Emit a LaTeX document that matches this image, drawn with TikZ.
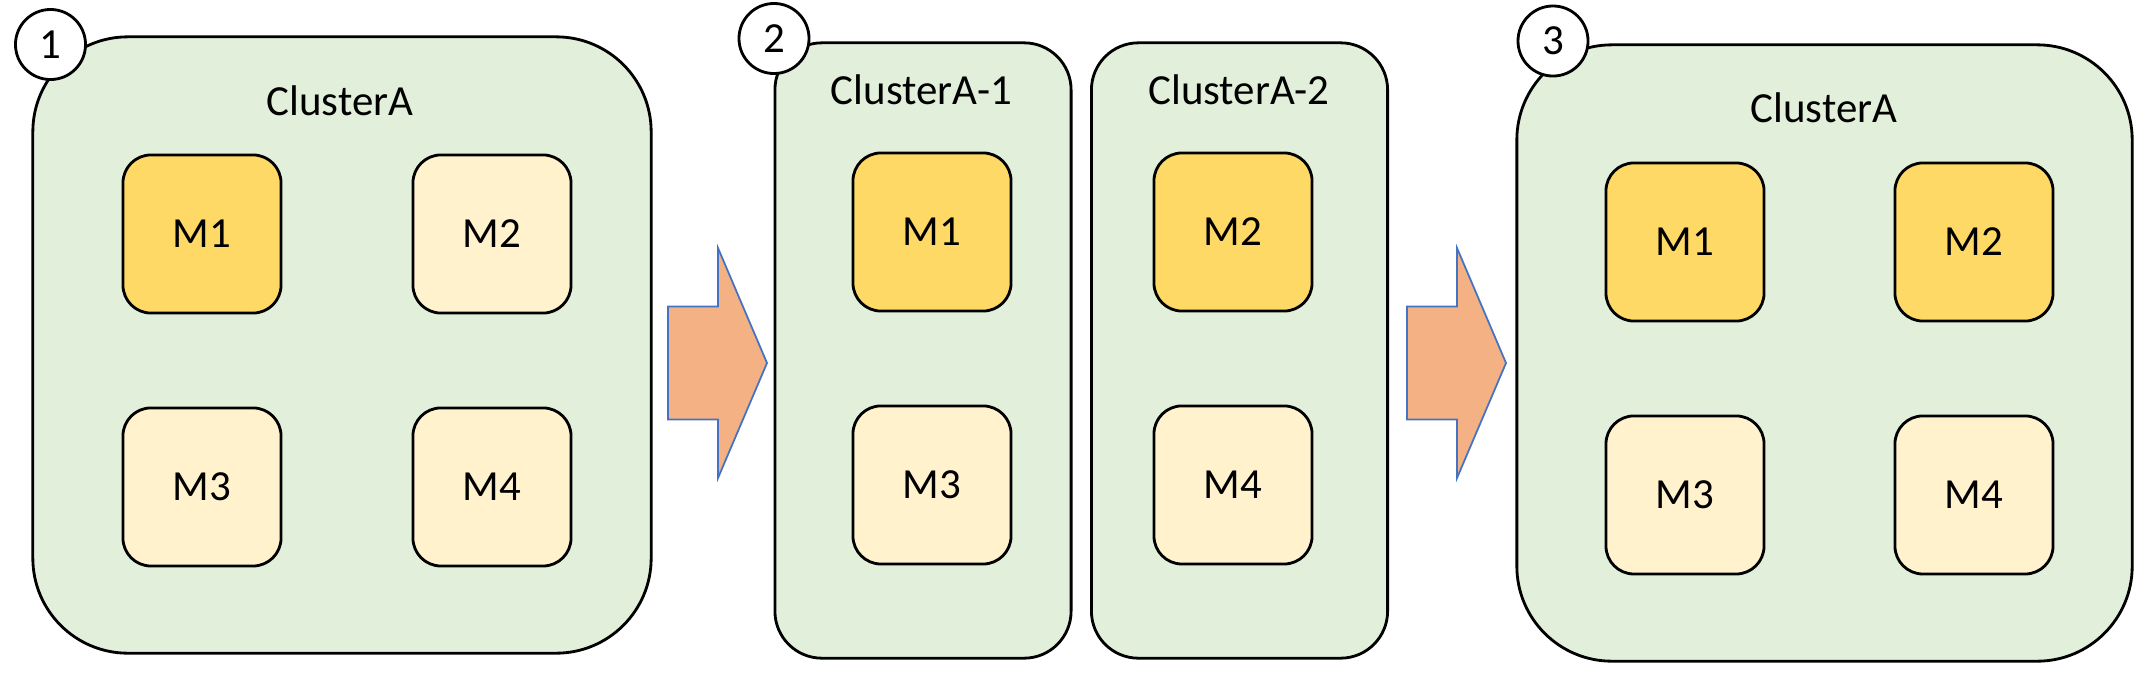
\documentclass[tikz,border=0pt]{standalone}
\usepackage{fontspec}
\setmainfont{Carlito}
\usetikzlibrary{positioning}
\definecolor{klyngegroen}{HTML}{E2EFDA}
\definecolor{guld}{HTML}{FFD966}
\definecolor{lysguld}{HTML}{FFF2CC}
\definecolor{pilfarve}{HTML}{F4B183}
\definecolor{pilkant}{HTML}{4472C4}
\tikzset{
    klynge/.style={
           rectangle,
           draw=black, line width=0.8pt,
           fill=klyngegroen,
           rounded corners=0.95cm},
    smalklynge/.style={
           klynge,
           rounded corners=0.47cm,
           minimum width=2.96cm,
           minimum height=6.15cm},
    boks/.style={
           rectangle,
           draw=black, line width=0.8pt,
           rounded corners=0.28cm,
           minimum width=1.58cm,
           minimum height=1.58cm},
    aktiv/.style={
           boks,
           fill=guld},
    passiv/.style={
           boks,
           fill=lysguld},
    nummer/.style={
           circle,
           draw=black, line width=0.8pt,
           fill=white,
           minimum size=0.7cm,
           inner sep=0pt},
    titel/.style={
           anchor=base},
    blokpil/.style={
           draw=pilkant, line width=0.5pt,
           fill=pilfarve}
}

\begin{document}
\begin{tikzpicture}[x=0.01cm, y=-0.01cm, node distance=0.92cm and 1.29cm, font=\fontsize{12.2}{14}\selectfont]
        \useasboundingbox (0,0) rectangle (2146,672);
        % trin 1
        \node[klynge, minimum width=6.18cm, minimum height=6.16cm] (K1) at (342,345) {};
        \node[titel] (K1t) at (340,115) {ClusterA};
        \node[aktiv] (K1m1) at (202,234) {M1};
        \node[passiv, right=of K1m1] (K1m2) {M2};
        \node[passiv, below=of K1m1] (K1m3) {M3};
        \node[passiv, below=of K1m2] (K1m4) {M4};
        \node[nummer] (N1) at (50.5,44.5) {1};
        % trin 2
        \node[smalklynge] (K2a) at (923,350.5) {};
        \node[smalklynge] (K2b) at (1239.5,350.5) {};
        \node[titel] (K2at) at (921.5,104) {ClusterA-1};
        \node[titel] (K2bt) at (1239,104) {ClusterA-2};
        \node[aktiv] (K2m1) at (932,232) {M1};
        \node[passiv, below=of K2m1] (K2m3) {M3};
        \node[aktiv] (K2m2) at (1233,232) {M2};
        \node[passiv, below=of K2m2] (K2m4) {M4};
        \node[nummer] (N2) at (774,38.5) {2};
        % trin 3
        \node[klynge, minimum width=6.15cm, minimum height=6.16cm] (K3) at (1824.5,353) {};
        \node[titel] (K3t) at (1824,122) {ClusterA};
        \node[aktiv] (K3m1) at (1685,242) {M1};
        \node[aktiv, right=1.28cm of K3m1] (K3m2) {M2};
        \node[passiv, below=of K3m1] (K3m3) {M3};
        \node[passiv, below=of K3m2] (K3m4) {M4};
        \node[nummer] (N3) at (1553,41) {3};
        % pile
        \coordinate (P1) at (668,363);
        \coordinate (P2) at (1407,363);
        \foreach \p in {P1,P2}
            \draw[blokpil] (\p) ++(0,-56.5) -- ++(50,0) -- ++(0,-58.5) -- ++(49,115)
                -- ++(-49,115) -- ++(0,-58.5) -- ++(-50,0) -- cycle;
    \end{tikzpicture}
\end{document}
